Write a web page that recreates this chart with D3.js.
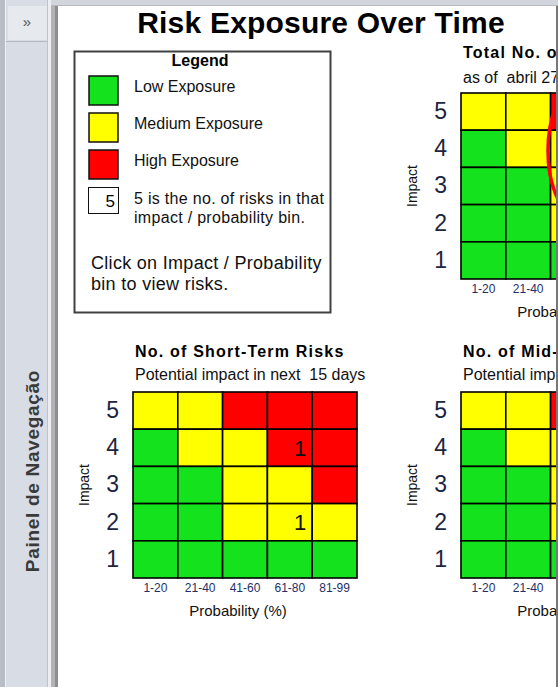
<!DOCTYPE html>
<html>
<head>
<meta charset="utf-8">
<script src="https://cdnjs.cloudflare.com/ajax/libs/d3/7.8.5/d3.min.js"></script>
<style>
  body { margin: 0; background: #fff; }
  svg { display: block; font-family: "Liberation Sans", Arial, sans-serif; }
  text { white-space: pre; }
</style>
</head>
<body>
<script>
// ---- data ----
const probBins = ["1-20", "21-40", "41-60", "61-80", "81-99"];
const impactLevels = [5, 4, 3, 2, 1];

// exposure class of each impact (row) / probability (column) bin
const exposureRows = [
    ["M", "M", "H", "H", "H"],  // impact 5
    ["L", "M", "M", "H", "H"],  // impact 4
    ["L", "L", "M", "M", "H"],  // impact 3
    ["L", "L", "M", "M", "M"],  // impact 2
    ["L", "L", "L", "L", "L"]   // impact 1
];

// no. of risks per bin (0 = empty cell)
const totalCounts = [
    [0, 0, 0, 0, 0],
    [0, 0, 0, 1, 0],
    [0, 0, 0, 0, 0],
    [0, 0, 0, 1, 0],
    [0, 0, 0, 0, 0]
];
const shortTermCounts = [
    [0, 0, 0, 0, 0],
    [0, 0, 0, 1, 0],
    [0, 0, 0, 0, 0],
    [0, 0, 0, 1, 0],
    [0, 0, 0, 0, 0]
];
const midTermCounts = [
    [0, 0, 0, 0, 0],
    [0, 0, 0, 0, 0],
    [0, 0, 0, 0, 0],
    [0, 0, 0, 0, 0],
    [0, 0, 0, 0, 0]
];

const panelTitles = ["Total No. of Risks", "No. of Short-Term Risks", "No. of Mid-Term Risks"];
const panelSubtitles = ["as of  abril 27", "Potential impact in next  15 days", "Potential impact in next  90 days"];

const legendLabels = ["Low Exposure", "Medium Exposure", "High Exposure"];
const legendClasses = ["L", "M", "H"];
const legendNote = ["5 is the no. of risks in that", "impact / probability bin."];
const legendClick = ["Click on Impact / Probability", "bin to view risks."];

// ---- styling ----
const exposureColor = {L: "#13e21c", M: "#ffff00", H: "#ff0000"};
const W = 558, H = 687;

const svg = d3.select("body").append("svg")
    .attr("width", W)
    .attr("height", H);

// window chrome: top strip + navigation pane on the left
svg.append("rect").attr("x", 0).attr("y", 0).attr("width", W).attr("height", H).attr("fill", "#fff");
svg.append("rect").attr("x", 0).attr("y", 0).attr("width", W).attr("height", 5).attr("fill", "#d2d6dc");
svg.append("line").attr("x1", 0).attr("x2", W).attr("y1", 5.5).attr("y2", 5.5).attr("stroke", "#b6bac1");

const nav = svg.append("g");
nav.append("rect").attr("x", 0).attr("y", 0).attr("width", 5).attr("height", H).attr("fill", "#b9bec6");
nav.append("rect").attr("x", 5).attr("y", 0).attr("width", 1).attr("height", H).attr("fill", "#eef0f3");
nav.append("rect").attr("x", 6).attr("y", 0).attr("width", 42).attr("height", H).attr("fill", "#d8dce5");
nav.append("rect").attr("x", 8).attr("y", 6).attr("width", 39).attr("height", 34).attr("fill", "#e6e9ee");
nav.append("line").attr("x1", 6).attr("x2", 48).attr("y1", 41.5).attr("y2", 41.5).attr("stroke", "#b3b8c0");
nav.append("rect").attr("x", 47).attr("y", 0).attr("width", 1).attr("height", H).attr("fill", "#bfc4cc");
nav.append("rect").attr("x", 48).attr("y", 0).attr("width", 3).attr("height", H).attr("fill", "#eceef2");
nav.append("rect").attr("x", 51).attr("y", 6).attr("width", 4).attr("height", H).attr("fill", "#b4b4b4");
nav.append("rect").attr("x", 55).attr("y", 6).attr("width", 3).attr("height", H).attr("fill", "#8e8e8e");
nav.append("text")
    .attr("x", 27).attr("y", 27)
    .attr("text-anchor", "middle")
    .attr("font-size", 15)
    .attr("fill", "#555")
    .text("\u00bb");
nav.append("text")
    .attr("transform", "translate(39,471) rotate(-90)")
    .attr("text-anchor", "middle")
    .attr("font-size", 19)
    .attr("font-weight", "bold")
    .attr("letter-spacing", 0.7)
    .attr("fill", "#3a3a3a")
    .text("Painel de Navegação");

// right border of the form
svg.append("line").attr("x1", 557).attr("x2", 557).attr("y1", 6).attr("y2", H)
    .attr("stroke", "#777").attr("stroke-width", 2);

// content is clipped by the form window
svg.append("clipPath").attr("id", "form-clip")
    .append("rect").attr("x", 58).attr("y", 6).attr("width", 498).attr("height", H - 6);
const form = svg.append("g").attr("clip-path", "url(#form-clip)");

form.append("text")
    .attr("x", 321).attr("y", 33)
    .attr("text-anchor", "middle")
    .attr("font-size", 30)
    .attr("font-weight", "bold")
    .attr("letter-spacing", 0.2)
    .attr("fill", "#000")
    .text("Risk Exposure Over Time");

// legend
const legend = form.append("g");
legend.append("rect")
    .attr("x", 74.5).attr("y", 51.5)
    .attr("width", 256).attr("height", 261)
    .attr("fill", "#fff")
    .attr("stroke", "#404040")
    .attr("stroke-width", 2);
legend.append("text")
    .attr("x", 200).attr("y", 66)
    .attr("text-anchor", "middle")
    .attr("font-size", 16)
    .attr("font-weight", "bold")
    .text("Legend");

const legendRow = d3.scaleBand().domain(legendClasses).range([76, 187]);
legend.selectAll(".swatch")
    .data(legendClasses)
    .enter()
        .append("rect")
        .attr("class", "swatch")
        .attr("x", 89).attr("y", (d) => legendRow(d))
        .attr("width", 29).attr("height", 29)
        .attr("fill", (d) => exposureColor[d])
        .attr("stroke", "#111")
        .attr("stroke-width", 1.5);
legend.selectAll(".swatch-label")
    .data(legendLabels)
    .enter()
        .append("text")
        .attr("class", "swatch-label")
        .attr("x", 134)
        .attr("y", (d, i) => legendRow(legendClasses[i]) + 16)
        .attr("font-size", 16)
        .attr("fill", "#111")
        .text((d) => d);

legend.append("rect")
    .attr("x", 88.5).attr("y", 187.5)
    .attr("width", 30).attr("height", 26)
    .attr("fill", "#fff")
    .attr("stroke", "#111");
legend.append("text")
    .attr("x", 115).attr("y", 207)
    .attr("text-anchor", "end")
    .attr("font-size", 17)
    .text("5");
legend.selectAll(".note")
    .data(legendNote)
    .enter()
        .append("text")
        .attr("class", "note")
        .attr("x", 134)
        .attr("y", (d, i) => 204 + i * 19)
        .attr("font-size", 16)
        .attr("letter-spacing", 0.3)
        .attr("fill", "#111")
        .text((d) => d);
legend.selectAll(".click")
    .data(legendClick)
    .enter()
        .append("text")
        .attr("class", "click")
        .attr("x", 91)
        .attr("y", (d, i) => 269 + i * 21)
        .attr("font-size", 18)
        .attr("letter-spacing", 0.3)
        .attr("fill", "#111")
        .text((d) => d);

// ---- matrices ----
const panelCounts = [totalCounts, shortTermCounts, midTermCounts];
const panelPos = [
    {x: 461, y: 93, titleY: 58, subY: 83},
    {x: 133, y: 392, titleY: 357, subY: 380},
    {x: 461, y: 392, titleY: 357, subY: 380}
];
const gridW = 224, gridH = 186;

const xScale = d3.scaleBand().domain(probBins).range([0, gridW]);
const yScale = d3.scaleBand().domain(impactLevels).range([0, gridH]);

panelPos.forEach((pos, p) => {
    const g = form.append("g").attr("transform", `translate(${pos.x},${pos.y})`);

    g.append("text")
        .attr("x", 2).attr("y", pos.titleY - pos.y)
        .attr("font-size", 16)
        .attr("font-weight", "bold")
        .attr("letter-spacing", 1.2)
        .text(panelTitles[p]);
    g.append("text")
        .attr("x", 2).attr("y", pos.subY - pos.y)
        .attr("font-size", 16)
        .attr("fill", "#111")
        .text(panelSubtitles[p]);

    const cells = [];
    impactLevels.forEach((imp, i) => {
        probBins.forEach((bin, j) => {
            cells.push({imp: imp, bin: bin, cls: exposureRows[i][j], n: panelCounts[p][i][j]});
        });
    });

    g.selectAll(".cell")
        .data(cells)
        .enter()
            .append("rect")
            .attr("class", "cell")
            .attr("x", (d) => xScale(d.bin))
            .attr("y", (d) => yScale(d.imp))
            .attr("width", xScale.bandwidth())
            .attr("height", yScale.bandwidth())
            .attr("fill", (d) => exposureColor[d.cls])
            .attr("stroke", "#000")
            .attr("stroke-width", 1.6);

    g.selectAll(".count")
        .data(cells.filter((d) => d.n > 0))
        .enter()
            .append("text")
            .attr("class", "count")
            .attr("x", (d) => xScale(d.bin) + xScale.bandwidth() - 6)
            .attr("y", (d) => yScale(d.imp) + yScale.bandwidth() / 2 + 8)
            .attr("text-anchor", "end")
            .attr("font-size", 22)
            .attr("fill", "#111")
            .text((d) => d.n);

    // impact axis
    g.append("g")
        .call(d3.axisLeft(yScale).tickSize(0).tickPadding(14))
        .call((a) => a.select(".domain").remove())
        .call((a) => a.selectAll("text")
            .attr("font-size", 23)
            .attr("font-family", "Liberation Sans, Arial, sans-serif")
            .attr("fill", "#1d2540"));

    // probability axis
    g.append("g")
        .attr("transform", `translate(0,${gridH})`)
        .call(d3.axisBottom(xScale).tickSize(0).tickPadding(5))
        .call((a) => a.select(".domain").remove())
        .call((a) => a.selectAll("text")
            .attr("font-size", 12)
            .attr("font-family", "Liberation Sans, Arial, sans-serif")
            .attr("fill", "#1f2f66"));

    g.append("text")
        .attr("transform", `translate(-44,${gridH / 2}) rotate(-90)`)
        .attr("text-anchor", "middle")
        .attr("font-size", 14)
        .attr("fill", "#111")
        .text("Impact");
    g.append("text")
        .attr("x", gridW / 2 - 7).attr("y", gridH + 38)
        .attr("text-anchor", "middle")
        .attr("font-size", 15)
        .attr("fill", "#111")
        .text("Probability (%)");
});

// red highlight drawn round the 4 / 41-60 bin of the total matrix
form.append("ellipse")
    .attr("cx", panelPos[0].x + xScale("41-60") + xScale.bandwidth() / 2)
    .attr("cy", panelPos[0].y + yScale(4) + yScale.bandwidth() / 2 + 2)
    .attr("rx", 25).attr("ry", 60)
    .attr("fill", "none")
    .attr("stroke", "#ff0000")
    .attr("stroke-width", 3.5);
</script>
</body>
</html>
